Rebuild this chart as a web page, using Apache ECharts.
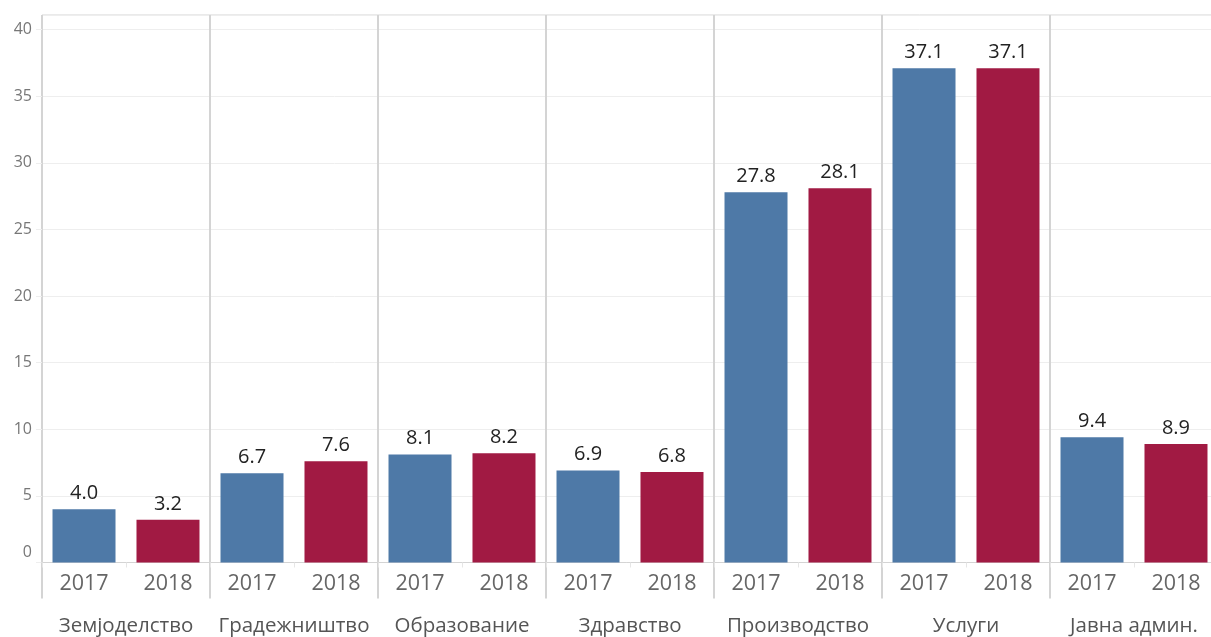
<!DOCTYPE html>
<html>
<head>
<meta charset="utf-8">
<script src="https://cdn.jsdelivr.net/npm/echarts@6/dist/echarts.min.js"></script>
<style>
  html, body { margin: 0; padding: 0; background: #fff; }
  #chart { width: 1211px; height: 637px; }
</style>
</head>
<body>
<div id="chart"></div>
<script>
// категории и години
const categories = ["Земјоделство", "Градежништво", "Образование", "Здравство", "Производство", "Услуги", "Јавна админ."];
const years = ["2017", "2018"];
const values2017 = [4.0, 6.7, 8.1, 6.9, 27.8, 37.1, 9.4];
const values2018 = [3.2, 7.6, 8.2, 6.8, 28.1, 37.1, 8.9];
const yTicks = [0, 5, 10, 15, 20, 25, 30, 35, 40];

const blue = "#4E79A7";
const red = "#A11A43";
const font = "Open Sans";

// годините се повторуваат под секоја категорија
const yearLabels = [];
categories.forEach(() => years.forEach(y => yearLabels.push(y)));

const chart = echarts.init(document.getElementById("chart"));

const valueLabel = {
  show: true,
  position: "top",
  distance: 6,
  color: "#222",
  fontFamily: font,
  fontSize: 20,
  formatter: p => p.value.toFixed(1)
};

chart.setOption({
  animation: false,
  textStyle: { fontFamily: font },
  grid: {
    left: 42,
    width: 1176, // последната категорија излегува малку надвор од сликата
    top: 15,
    bottom: 74.5,
    outerBoundsMode: "none",
    containLabel: false,
    show: true,
    borderColor: "#d4d4d4",
    borderWidth: 1
  },
  xAxis: [
    {
      type: "category",
      data: categories,
      position: "bottom",
      axisLine: { show: false },
      axisTick: {
        show: true,
        interval: 0,
        length: 36,
        lineStyle: { color: "#d4d4d4", width: 2 }
      },
      splitLine: {
        show: true,
        interval: 0,
        lineStyle: { color: "#d4d4d4", width: 2 }
      },
      axisLabel: {
        interval: 0,
        margin: 53,
        color: "#555",
        fontSize: 20.5,
        fontFamily: font
      }
    },
    {
      type: "category",
      data: yearLabels,
      position: "bottom",
      axisLine: { show: true, lineStyle: { color: "#d4d4d4", width: 1 } },
      axisTick: { show: true, interval: 0, length: 5, lineStyle: { color: "#e6e6e6" } },
      splitLine: { show: false },
      axisLabel: {
        margin: 10,
        color: "#666",
        fontSize: 21.5,
        fontFamily: font,
        interval: 0
      }
    }
  ],
  yAxis: {
    type: "value",
    min: 0,
    max: 41.1,
    interval: 5,
    axisLine: { show: false },
    axisTick: { show: true, length: 6, lineStyle: { color: "#eee" } },
    splitLine: { lineStyle: { color: "#eee", width: 1 } },
    axisLabel: {
      showMaxLabel: false,
      margin: 10,
      color: "#777",
      fontSize: 16,
      fontFamily: font,
      formatter: v => (v === 0 ? "{z|0}" : yTicks.includes(v) ? String(v) : ""),
      rich: {
        z: { color: "#777", fontSize: 16, fontFamily: font, padding: [0, 0, 20, 0] }
      }
    }
  },
  series: [
    {
      name: "2017",
      type: "bar",
      xAxisIndex: 0,
      data: values2017,
      barWidth: 63,
      barGap: "33.3%",
      itemStyle: { color: blue },
      label: valueLabel
    },
    {
      name: "2018",
      type: "bar",
      xAxisIndex: 0,
      data: values2018,
      barWidth: 63,
      barGap: "33.3%",
      itemStyle: { color: red },
      label: valueLabel
    }
  ]
});
</script>
</body>
</html>
